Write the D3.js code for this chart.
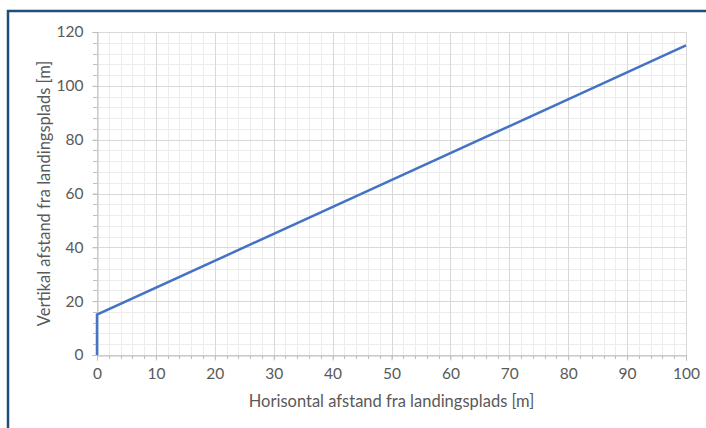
<!DOCTYPE html>
<html>
<head>
<meta charset="utf-8">
<script src="https://cdn.jsdelivr.net/npm/d3@7"></script>
<style>
  body { margin: 0; background: #fff; }
  svg text { font-family: Lato, "Open Sans", sans-serif; fill: #595959; }
</style>
</head>
<body>
<svg id="chart"></svg>
<script>
const width = 706;
const height = 428;
const margin = { top: 32, right: 20, bottom: 73, left: 97 };

// data
const xValues = [0, 0, 100];
const yValues = [0, 15, 115];
const xTicks = [0, 10, 20, 30, 40, 50, 60, 70, 80, 90, 100];
const yTicks = [0, 20, 40, 60, 80, 100, 120];
const xTitle = "Horisontal afstand fra landingsplads [m]";
const yTitle = "Vertikal afstand fra landingsplads [m]";

const svg = d3.select("#chart")
    .attr("width", width)
    .attr("height", height);

const x = d3.scaleLinear().domain([0, 100]).range([margin.left, width - margin.right]);
const y = d3.scaleLinear().domain([0, 120]).range([height - margin.bottom, margin.top]);

// frame
svg.append("path")
    .attr("d", `M8,${height} L8,11 L${width},11`)
    .attr("fill", "none")
    .attr("stroke", "#1f4e79")
    .attr("stroke-width", 2.5);

// minor grid
const xMinor = d3.range(0, 101, 2);
const yMinor = d3.range(0, 121, 4);
svg.append("g").selectAll("line").data(xMinor).join("line")
    .attr("x1", d => Math.round(x(d)) + 0.5).attr("x2", d => Math.round(x(d)) + 0.5)
    .attr("y1", y(0)).attr("y2", y(120))
    .attr("stroke", "#ececec");
svg.append("g").selectAll("line").data(yMinor).join("line")
    .attr("y1", d => Math.round(y(d)) + 0.5).attr("y2", d => Math.round(y(d)) + 0.5)
    .attr("x1", x(0)).attr("x2", x(100))
    .attr("stroke", "#ececec");

// major grid
svg.append("g").selectAll("line").data(xTicks).join("line")
    .attr("x1", d => Math.round(x(d)) + 0.5).attr("x2", d => Math.round(x(d)) + 0.5)
    .attr("y1", y(0)).attr("y2", y(120))
    .attr("stroke", "#d9d9d9");
svg.append("g").selectAll("line").data(yTicks).join("line")
    .attr("y1", d => Math.round(y(d)) + 0.5).attr("y2", d => Math.round(y(d)) + 0.5)
    .attr("x1", x(0)).attr("x2", x(100))
    .attr("stroke", "#d9d9d9");

// minor ticks
svg.append("g").selectAll("line").data(xMinor).join("line")
    .attr("x1", d => Math.round(x(d)) + 0.5).attr("x2", d => Math.round(x(d)) + 0.5)
    .attr("y1", y(0)).attr("y2", y(0) + 4)
    .attr("stroke", "#bfbfbf");
svg.append("g").selectAll("line").data(yMinor).join("line")
    .attr("y1", d => Math.round(y(d)) + 0.5).attr("y2", d => Math.round(y(d)) + 0.5)
    .attr("x1", x(0) - 4).attr("x2", x(0))
    .attr("stroke", "#bfbfbf");

// axes
const xAxis = d3.axisBottom(x).tickValues(xTicks).tickSize(5).tickPadding(7);
const yAxis = d3.axisLeft(y).tickValues(yTicks).tickSize(5).tickPadding(9);

const gx = svg.append("g")
    .attr("transform", `translate(0, ${Math.round(y(0)) + 0.5})`)
    .call(xAxis);
const gy = svg.append("g")
    .attr("transform", `translate(${Math.round(x(0)) + 0.5}, 0)`)
    .call(yAxis);
[gx, gy].forEach(g => {
    g.selectAll("path, line").attr("stroke", "#bfbfbf");
    g.selectAll("text").style("font-size", "15.5px").attr("fill", "#595959");
});

// line
const line = d3.line().x(d => x(d[0])).y(d => y(d[1]));
svg.append("path")
    .datum(xValues.map((v, i) => [v, yValues[i]]))
    .attr("d", line)
    .attr("fill", "none")
    .attr("stroke", "#4472c4")
    .attr("stroke-width", 2.5);

// titles
svg.append("text")
    .attr("x", (x(0) + x(100)) / 2)
    .attr("y", 407)
    .attr("text-anchor", "middle")
    .style("font-size", "16.5px")
    .text(xTitle);
svg.append("text")
    .attr("transform", `translate(50, ${(y(0) + y(120)) / 2}) rotate(-90)`)
    .attr("text-anchor", "middle")
    .style("font-size", "16.5px")
    .text(yTitle);
</script>
</body>
</html>
